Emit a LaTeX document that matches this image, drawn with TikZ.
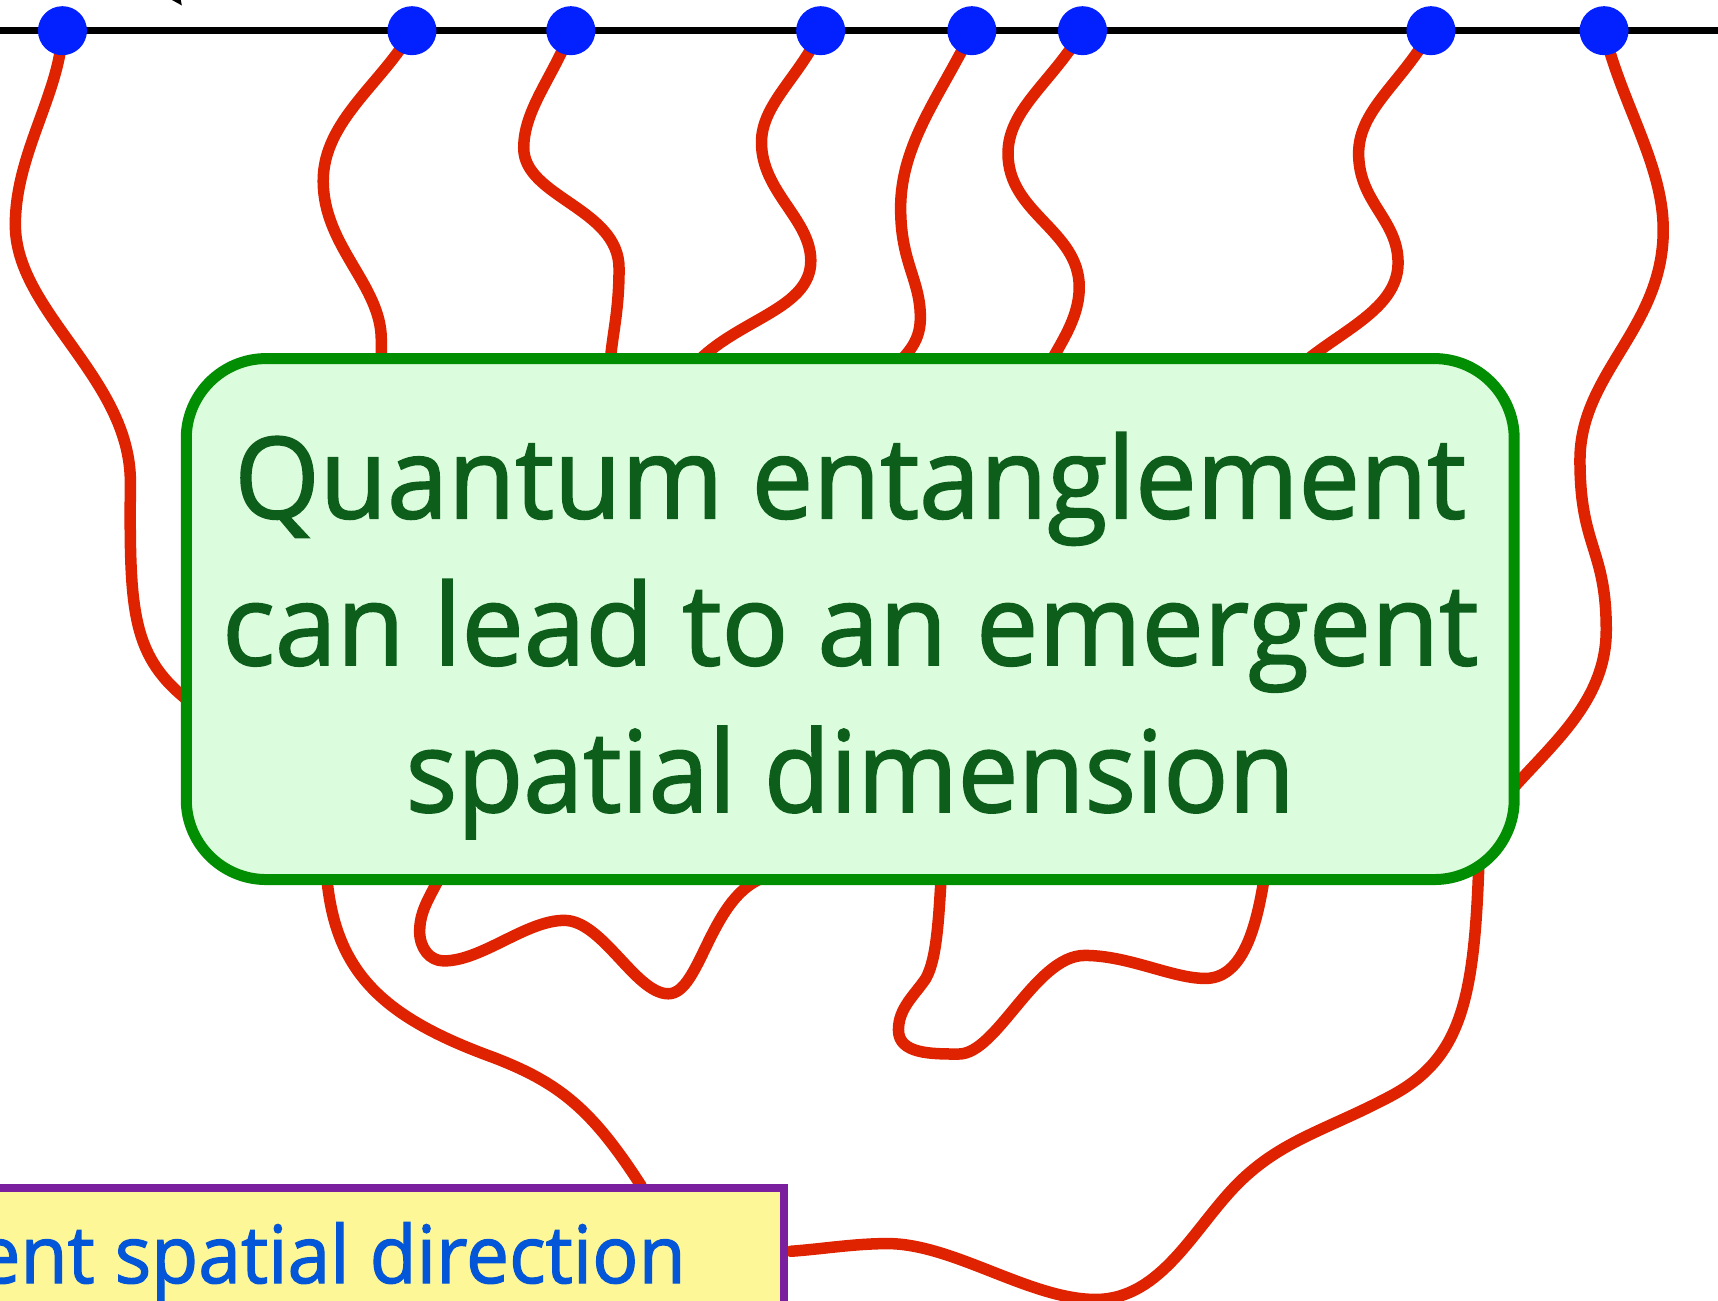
\documentclass[tikz,border=0pt]{standalone}
\usepackage{fontspec}
\setmainfont{Open Sans}
\newfontfamily\heavyfont{Open Sans}[FakeBold=1.6]
\usetikzlibrary{shapes.geometric}
\definecolor{wire}{HTML}{DF2200}
\definecolor{dotblue}{HTML}{0320FF}
\definecolor{boxgreen}{HTML}{028E02}
\definecolor{boxfill}{HTML}{DCFCDE}
\definecolor{txtgreen}{HTML}{0E5E1B}
\definecolor{lilac}{HTML}{7A209E}
\definecolor{paleyellow}{HTML}{FDF797}
\definecolor{txtblue}{HTML}{0356D8}
\tikzset{
  wirestyle/.style={draw=wire, line width=11.5pt, line cap=round, line join=round},
  dotstyle/.style={circle, fill=dotblue, inner sep=0pt, minimum size=49pt},
  mainbox/.style={draw=boxgreen, fill=boxfill, line width=11pt, rounded corners=80pt, minimum width=1328pt, minimum height=521pt, inner sep=0pt},
  maintext/.style={text=txtgreen, font=\heavyfont\fontsize{113}{140}\selectfont, anchor=base, inner sep=0pt},
  ybox/.style={draw=lilac, fill=paleyellow, line width=8pt, minimum width=900pt, minimum height=250pt, anchor=north east, inner sep=0pt},
  ytext/.style={text=txtblue, font=\heavyfont\fontsize{80}{96}\selectfont, anchor=base east, inner sep=0pt, xscale=0.96}
}
\begin{document}
\begin{tikzpicture}[x=1.0957pt, y=-1.0957pt]
\useasboundingbox (0,0) rectangle (1568,1187);
\clip (0,0) rectangle (1568,1187);
% top line
\coordinate (lineL) at (-10,28);
\coordinate (lineR) at (1580,28);
\draw[line width=7pt] (lineL) -- (lineR);
\fill (157,0) -- (165,0) -- (166,5) -- cycle;
% dot positions
\coordinate (p1) at (57,28);
\coordinate (p2) at (376,28);
\coordinate (p3) at (521,28);
\coordinate (p4) at (749,28);
\coordinate (p5) at (887,28);
\coordinate (p6) at (988,28);
\coordinate (p7) at (1306,28);
\coordinate (p8) at (1464,28);
% wires from the dots into the box
\draw[wirestyle] (p1) .. controls (55,85) and (14,140) .. (14,205)
  .. controls (14,285) and (119,345) .. (119,440)
  .. controls (118,560) and (120,600) .. (175,642);
\draw[wirestyle] (p2) .. controls (350,75) and (295,110) .. (295,165)
  .. controls (295,225) and (348,260) .. (348,310) -- (348,345);
\draw[wirestyle] (p3) .. controls (505,70) and (478,100) .. (478,135)
  .. controls (478,180) and (565,190) .. (565,245)
  .. controls (565,290) and (557,310) .. (556,345);
\draw[wirestyle] (p4) .. controls (730,70) and (695,95) .. (695,130)
  .. controls (695,175) and (740,200) .. (740,238)
  .. controls (740,285) and (665,292) .. (628,340);
\draw[wirestyle] (p5) .. controls (860,85) and (822,130) .. (822,190)
  .. controls (822,240) and (840,255) .. (840,290)
  .. controls (840,315) and (825,325) .. (812,340);
\draw[wirestyle] (p6) .. controls (960,75) and (920,100) .. (920,140)
  .. controls (920,195) and (985,210) .. (985,262)
  .. controls (985,295) and (962,320) .. (952,345);
\draw[wirestyle] (p7) .. controls (1280,75) and (1240,100) .. (1240,140)
  .. controls (1240,185) and (1276,200) .. (1276,240)
  .. controls (1276,285) and (1215,305) .. (1180,340);
\draw[wirestyle] (p8) .. controls (1480,95) and (1518,150) .. (1518,210)
  .. controls (1518,300) and (1442,340) .. (1442,420)
  .. controls (1442,500) and (1466,500) .. (1466,575)
  .. controls (1466,650) and (1400,690) .. (1360,745);
% wires below the box
\coordinate (yin) at (585,1082);
\coordinate (yright) at (722,1142);
\draw[wirestyle] (297,780) .. controls (300,880) and (340,925) .. (450,965)
  .. controls (510,988) and (540,1012) .. (yin);
\draw[wirestyle] (410,780) .. controls (400,810) and (383,825) .. (383,850)
  .. controls (383,865) and (392,877) .. (405,877)
  .. controls (440,877) and (480,840) .. (515,840)
  .. controls (550,840) and (580,907) .. (610,907)
  .. controls (640,907) and (648,815) .. (700,800) -- (720,790);
\draw[wirestyle] (860,780) .. controls (857,840) and (855,875) .. (845,893)
  .. controls (835,908) and (820,920) .. (820,940)
  .. controls (820,962) and (850,962) .. (875,962)
  .. controls (910,962) and (945,872) .. (990,872)
  .. controls (1030,872) and (1070,893) .. (1100,893)
  .. controls (1140,893) and (1150,830) .. (1157,780);
\draw[wirestyle] (1350,780) .. controls (1346,910) and (1335,965) .. (1270,1000)
  .. controls (1212,1031) and (1170,1040) .. (1130,1080)
  .. controls (1090,1120) and (1060,1186) .. (1000,1186)
  .. controls (940,1186) and (870,1135) .. (810,1135)
  .. controls (780,1135) and (750,1140) .. (yright);
% main box
\node[mainbox] (box) at (776,565) {};
\node[maintext, xscale=0.97] (t1) at (776,473) {Quantum entanglement};
\node[maintext, xscale=0.982] (t2) at (776,607) {can lead to an emergent};
\node[maintext, xscale=0.955] (t3) at (776,741) {spatial dimension};
% yellow box
\node[ybox] (yb) at (719,1081) {};
\node[ytext] (yt) at (626,1171) {ent spatial direction};
% dots
\foreach \i in {1,...,8} \node[dotstyle] (d\i) at (p\i) {};
\end{tikzpicture}
\end{document}
